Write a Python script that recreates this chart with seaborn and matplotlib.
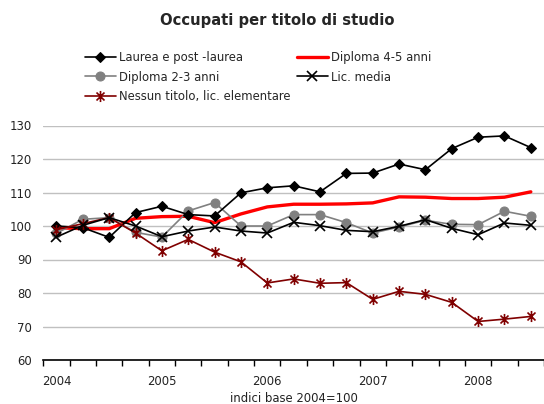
import numpy as np
import pandas as pd
import matplotlib
matplotlib.use("Agg")
import matplotlib.pyplot as plt
from matplotlib.path import Path
import seaborn as sns

# Quarterly index values, 2004 Q1 - 2008 Q3 (base 2004 = 100)
quarters = list(range(19))
year_labels = ["2004", "2005", "2006", "2007", "2008"]
year_positions = [0, 4, 8, 12, 16]

laurea = [100.0, 99.5, 96.6, 104.0, 105.9, 103.4, 103.0, 109.9, 111.4, 112.0,
          110.2, 115.7, 115.8, 118.5, 116.8, 123.1, 126.5, 126.9, 123.4]
diploma_45 = [99.5, 99.2, 99.2, 102.3, 102.8, 102.9, 101.0, 103.6, 105.7, 106.5,
              106.5, 106.6, 106.9, 108.7, 108.6, 108.2, 108.2, 108.6, 110.2]
diploma_23 = [97.8, 102.0, 102.5, 98.1, 96.7, 104.5, 107.0, 100.0, 100.0, 103.4,
              103.4, 101.0, 97.9, 99.7, 101.7, 100.5, 100.4, 104.4, 102.9]
lic_media = [96.7, 100.2, 102.5, 100.0, 96.8, 98.5, 99.7, 98.5, 97.9, 101.1,
             100.1, 98.7, 98.3, 99.9, 101.9, 99.3, 97.4, 100.9, 100.2]
nessun_titolo = [98.9, 100.7, 102.5, 97.9, 92.6, 96.0, 92.2, 89.3, 83.0, 84.2,
                 82.9, 83.1, 78.1, 80.5, 79.6, 77.2, 71.5, 72.2, 73.0]

series_names = ["Laurea e post -laurea", "Diploma 4-5 anni", "Diploma 2-3 anni",
                "Lic. media", "Nessun titolo, lic. elementare"]

df = pd.DataFrame({
    "periodo": quarters * 5,
    "indice": laurea + diploma_45 + diploma_23 + lic_media + nessun_titolo,
    "titolo": sum([[n] * len(quarters) for n in series_names], []),
})

sns.set_theme(style="white")
plt.rcParams["font.family"] = ["DejaVu Sans"]
FS = 8.4

fig = plt.figure(figsize=(5.44, 4.04), dpi=100)
ax = fig.add_axes([43.3 / 544, 1 - 360 / 404, 1 - 43.3 / 544, (360 - 125.5) / 404])

asterisk = Path(
    [(0, -1), (0, 1), (-0.72, -0.72), (0.72, 0.72), (-0.72, 0.72), (0.72, -0.72)],
    [Path.MOVETO, Path.LINETO, Path.MOVETO, Path.LINETO, Path.MOVETO, Path.LINETO],
)

styles = {
    "Laurea e post -laurea": dict(color="black", lw=1.2, marker="D", ms=5.2,
                                   mfc="black", mec="black", zorder=5),
    "Diploma 4-5 anni": dict(color="#ff0000", lw=2.4, marker=None, zorder=3),
    "Diploma 2-3 anni": dict(color="#808080", lw=1.2, marker="o", ms=6.5,
                              mfc="#808080", mec="#808080", zorder=4),
    "Lic. media": dict(color="black", lw=1.2, marker="x", ms=7, mew=1.2,
                        mec="black", zorder=6),
    "Nessun titolo, lic. elementare": dict(color="#800000", lw=1.2,
                                            marker=asterisk, ms=8, mew=1.2,
                                            mec="#800000", zorder=5),
}

handles = {}
for name in series_names:
    sub = df[df["titolo"] == name]
    sns.lineplot(data=sub, x="periodo", y="indice", ax=ax, label=name,
                 legend=False, **styles[name])
    handles[name] = ax.get_lines()[-1]

ax.set_xlim(-0.5, 18.5)
ax.set_ylim(60, 130)
ax.set_yticks(np.arange(60, 131, 10))
ax.yaxis.grid(True, color="#c0c0c0", lw=1.0)
ax.set_axisbelow(True)

ax.set_xticks(year_positions)
ax.set_xticklabels(year_labels)
ax.set_xticks(np.arange(-0.5, 19, 1), minor=True)
ax.tick_params(axis="x", which="major", length=0, pad=10.5, labelsize=FS,
               colors="#222222")
ax.tick_params(axis="x", which="minor", length=4, width=1, direction="out",
               color="black", bottom=True)
ax.tick_params(axis="y", length=0, pad=8, labelsize=FS, colors="#222222")

for s in ["top", "right", "left"]:
    ax.spines[s].set_visible(False)
ax.spines["bottom"].set_color("black")
ax.spines["bottom"].set_linewidth(1.2)

ax.set_xlabel("indici base 2004=100", fontsize=FS, color="#222222", labelpad=3)
ax.set_ylabel("")

fig.suptitle("Occupati per titolo di studio", x=277.5 / 544, y=1 - 20.7 / 404,
             fontsize=10.6, fontweight="bold", va="center")

order = ["Laurea e post -laurea", "Diploma 2-3 anni",
         "Nessun titolo, lic. elementare", "Diploma 4-5 anni", "Lic. media"]
fig.legend([handles[n] for n in order], order, ncol=2, loc="upper left",
           bbox_to_anchor=(85 / 544, 1 - 51.5 / 404), frameon=False,
           fontsize=FS, handlelength=2.65, handletextpad=0.3,
           columnspacing=0.5, labelspacing=0.52, borderpad=0, borderaxespad=0)

fig.savefig("out.png", dpi=100)
